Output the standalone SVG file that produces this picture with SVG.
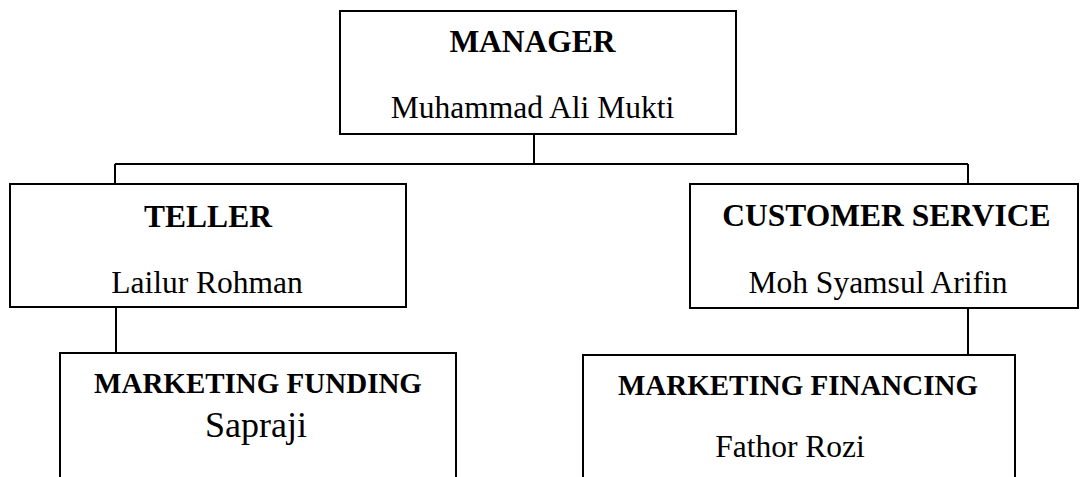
<svg xmlns="http://www.w3.org/2000/svg" width="1080" height="477" viewBox="0 0 1080 477">
<style>
.box{fill:#fff;stroke:#000;stroke-width:2}
.con{fill:none;stroke:#000;stroke-width:2}
text{font-family:"Liberation Serif","Times New Roman",serif;fill:#000;text-anchor:middle}
.h{font-weight:bold;font-size:31.5px}
.h2{font-weight:bold;font-size:29px}
.n{font-size:31.5px}
</style>
<rect width="1080" height="477" fill="#fff"/>
<g id="connectors">
<path class="con" d="M534 134V164M115 164H968M115 164V184M968 164V184M116 307V353M968 308V355"/>
</g>
<g id="manager">
<rect class="box" x="340" y="11" width="396" height="123"/>
<text class="h" x="532.5" y="52">MANAGER</text>
<text class="n" x="532.5" y="118">Muhammad Ali Mukti</text>
</g>
<g id="teller">
<rect class="box" x="10" y="184" width="396" height="123"/>
<text class="h" x="208" y="227">TELLER</text>
<text class="n" x="207" y="293">Lailur Rohman</text>
</g>
<g id="customer-service">
<rect class="box" x="690" y="184" width="388" height="124"/>
<text class="h" x="886.5" y="226">CUSTOMER SERVICE</text>
<text class="n" x="878" y="293">Moh Syamsul Arifin</text>
</g>
<g id="marketing-funding">
<rect class="box" x="60" y="353" width="396" height="140"/>
<text class="h2" x="258" y="393">MARKETING FUNDING</text>
<text x="256" y="437" font-size="36">Sapraji</text>
</g>
<g id="marketing-financing">
<rect class="box" x="583" y="355" width="432" height="140"/>
<text class="h2" x="798" y="395">MARKETING FINANCING</text>
<text class="n" x="790" y="457">Fathor Rozi</text>
</g>
</svg>
